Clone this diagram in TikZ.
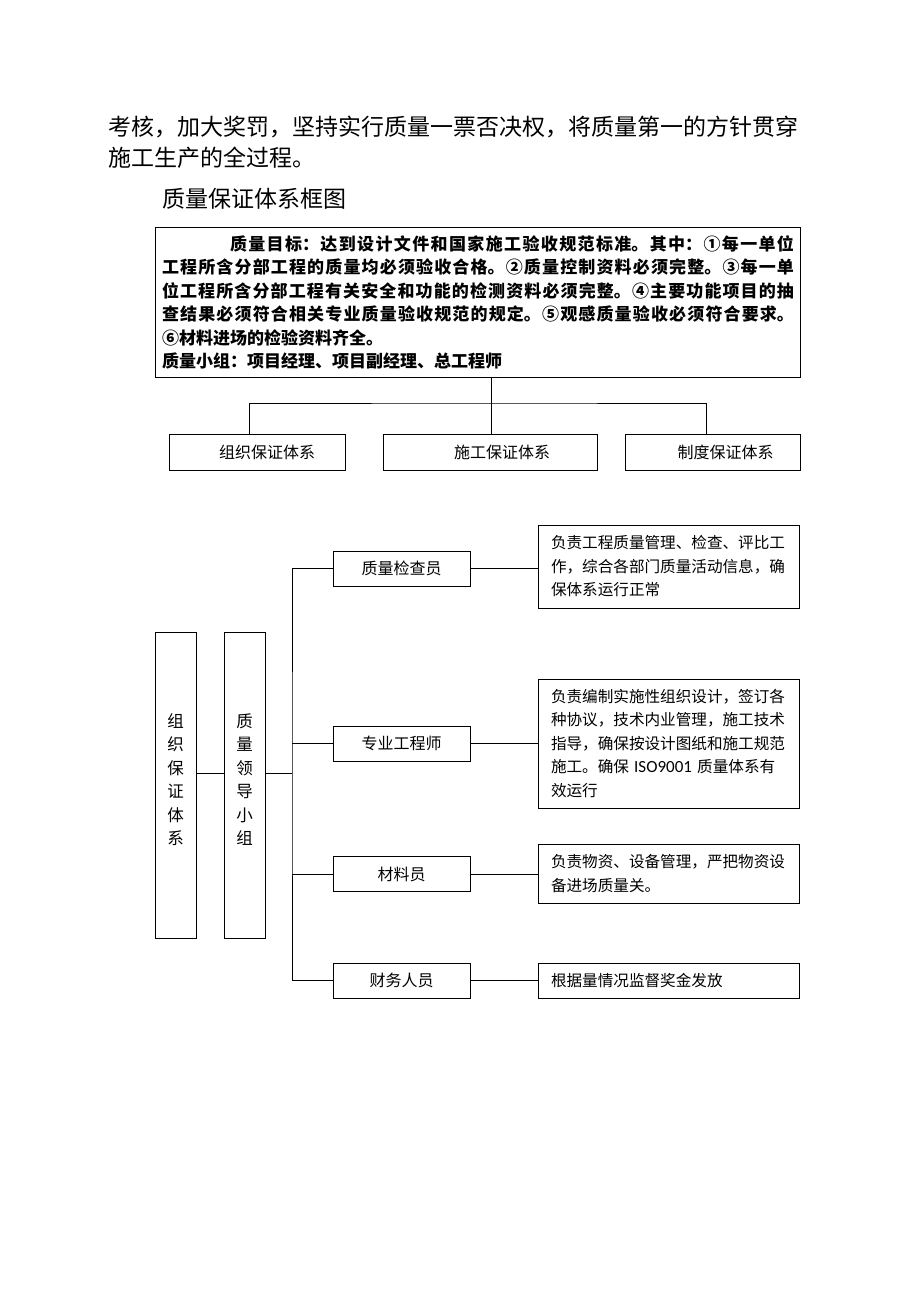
\documentclass[tikz,border=0pt]{standalone}
\usepackage{fontspec}
\setmainfont{Noto Sans CJK SC}
\newfontfamily\latinfont{Carlito}
\usetikzlibrary{positioning}

\begin{document}
\begin{tikzpicture}[x=1pt,y=-1pt,
  box/.style={draw,line width=1pt,inner sep=0pt,font=\fontsize{16}{16}\selectfont},
  desc/.style={draw,line width=1pt,minimum width=261pt,inner xsep=13pt,inner ysep=0pt,
    text width=235pt,align=left,font=\fontsize{15.6}{23.5}\selectfont},
  para/.style={anchor=west,inner sep=0pt,font=\fontsize{23}{23}\selectfont},
  link/.style={line width=0.9pt}]

\useasboundingbox (0,0) rectangle (920,1302);

% text above the chart
\node[para] (p1) at (108,127) {考核，加大奖罚，坚持实行质量一票否决权，将质量第一的方针贯穿};
\node[para] (p2) at (108,158) {施工生产的全过程。};
\node[para] (title) at (162,199) {质量保证体系框图};

% goal box
\node[draw,line width=1pt,anchor=north west,minimum width=645pt,minimum height=150pt,
  inner xsep=6.5pt,inner ysep=0pt,text width=632pt,align=justify,
  font=\fontsize{17}{23.4}\selectfont\bfseries] (goal) at (155,227)
  {\XeTeXlinebreaklocale "zh"\XeTeXlinebreakskip=0pt plus 3pt%
  \hspace*{4em}质量目标：达到设计文件和国家施工验收规范标准。其中：①每一单位\linebreak
  工程所含分部工程的质量均必须验收合格。②质量控制资料必须完整。③每一单\linebreak
  位工程所含分部工程有关安全和功能的检测资料必须完整。④主要功能项目的抽\linebreak
  查结果必须符合相关专业质量验收规范的规定。⑤观感质量验收必须符合要求。\linebreak
  ⑥材料进场的检验资料齐全。\\
  质量小组：项目经理、项目副经理、总工程师};

% three systems
\node[box,minimum width=176pt,minimum height=36pt] (org) at (257,452) {\hspace*{20pt}组织保证体系};
\node[box,minimum width=214pt,minimum height=36pt] (cons) at (490,452) {\hspace*{24pt}施工保证体系};
\node[box,minimum width=175pt,minimum height=36pt] (sys) at (712.5,452) {\hspace*{26pt}制度保证体系};

\coordinate (hub) at (491,403);
\draw[link] (goal.south -| hub) -- (cons.north -| hub);
\draw[link] ([xshift=-8pt]org.north) |- (hub) -| ([xshift=-6.5pt]sys.north);

% organisation chart
\node[box,minimum width=41pt,minimum height=306pt,align=center,font=\fontsize{16.5}{23.5}\selectfont] (orgv) at (175.5,785) {组\\织\\保\\证\\体\\系\\[-12pt]};
\node[box,minimum width=41pt,minimum height=306pt,align=center,font=\fontsize{16.5}{23.5}\selectfont] (lead) at (244.5,785) {质\\量\\领\\导\\小\\组\\[-12pt]};
\coordinate (jn) at (292,773);

\node[box,minimum width=137pt,minimum height=35pt] (qc) at (401.5,568.5) {质量检查员};
\node[box,minimum width=137pt,minimum height=35pt] (eng) at (401.5,743.5) {专业工程师};
\node[box,minimum width=137pt,minimum height=35pt] (mat) at (401.5,874) {材料员};
\node[box,minimum width=137pt,minimum height=35pt] (fin) at (401.5,980.5) {财务人员};

\node[desc,minimum height=83pt] (qcd) at (668.5,566.5) {负责工程质量管理、检查、评比工\\作，综合各部门质量活动信息，确\\保体系运行正常};
\node[desc,minimum height=129pt] (engd) at (668.5,743.5) {负责编制实施性组织设计，签订各\\种协议，技术内业管理，施工技术\\指导，确保按设计图纸和施工规范\\施工。确保 {\latinfont\fontsize{17}{23.5}\selectfont ISO9001} 质量体系有\\效运行};
\node[desc,minimum height=59pt] (matd) at (668.5,873.5) {负责物资、设备管理，严把物资设\\备进场质量关。};
\node[desc,minimum height=35pt] (find) at (668.5,980.5) {根据量情况监督奖金发放};

\draw[link] ([yshift=12pt]orgv.east) -- ([yshift=12pt]lead.west);
\draw[link] ([yshift=12pt]lead.east) -- (jn);
\draw[link] (qc.west) -| (jn) |- (fin.west);
\draw[link] (eng.west) -- (eng.west -| jn);
\draw[link] (mat.west) -- (mat.west -| jn);

\draw[link] (qc.east) -- (qc.east -| qcd.west);
\draw[link] (eng.east) -- (engd.west);
\draw[link] (mat.east) -- (mat.east -| matd.west);
\draw[link] (fin.east) -- (find.west);

\end{tikzpicture}
\end{document}
